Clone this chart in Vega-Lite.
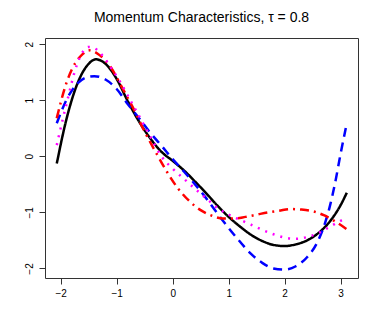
{
  "$schema": "https://vega.github.io/schema/vega-lite/v6.json",
  "width": 313,
  "height": 240,
  "autosize": {"type": "none"},
  "padding": {"left": 45, "top": 38, "right": 24, "bottom": 49},
  "background": "white",
  "title": {"text": "Momentum Characteristics, τ = 0.8", "font": "Liberation Sans", "fontSize": 14, "fontWeight": "normal", "color": "#000000", "anchor": "middle", "offset": 13},
  "config": {
    "view": {"stroke": "#333333", "strokeWidth": 1},
    "axis": {"domain": false, "grid": false, "tickColor": "#333333", "tickSize": 6, "labelFont": "Liberation Sans", "labelFontSize": 10, "labelColor": "#000000", "title": null}
  },
  "datasets": {
    "curves": [
      {"s": "a", "x": -2.07, "y": -0.13}, {"s": "a", "x": -1.9, "y": 0.65}, {"s": "a", "x": -1.7, "y": 1.3}, {"s": "a", "x": -1.5, "y": 1.65}, {"s": "a", "x": -1.37, "y": 1.73}, {"s": "a", "x": -1.2, "y": 1.65}, {"s": "a", "x": -1.0, "y": 1.38}, {"s": "a", "x": -0.8, "y": 0.98}, {"s": "a", "x": -0.6, "y": 0.62}, {"s": "a", "x": -0.4, "y": 0.32}, {"s": "a", "x": -0.2, "y": 0.08}, {"s": "a", "x": 0.0, "y": -0.08}, {"s": "a", "x": 0.2, "y": -0.25}, {"s": "a", "x": 0.4, "y": -0.45}, {"s": "a", "x": 0.6, "y": -0.66}, {"s": "a", "x": 0.8, "y": -0.88}, {"s": "a", "x": 1.0, "y": -1.08}, {"s": "a", "x": 1.2, "y": -1.25}, {"s": "a", "x": 1.4, "y": -1.4}, {"s": "a", "x": 1.6, "y": -1.51}, {"s": "a", "x": 1.8, "y": -1.58}, {"s": "a", "x": 2.0, "y": -1.6}, {"s": "a", "x": 2.2, "y": -1.57}, {"s": "a", "x": 2.4, "y": -1.5}, {"s": "a", "x": 2.6, "y": -1.37}, {"s": "a", "x": 2.8, "y": -1.17}, {"s": "a", "x": 3.0, "y": -0.87}, {"s": "a", "x": 3.11, "y": -0.65},
      {"s": "b", "x": -2.07, "y": 0.59}, {"s": "b", "x": -1.9, "y": 1.0}, {"s": "b", "x": -1.7, "y": 1.3}, {"s": "b", "x": -1.5, "y": 1.42}, {"s": "b", "x": -1.4, "y": 1.43}, {"s": "b", "x": -1.2, "y": 1.37}, {"s": "b", "x": -1.0, "y": 1.2}, {"s": "b", "x": -0.8, "y": 0.93}, {"s": "b", "x": -0.6, "y": 0.68}, {"s": "b", "x": -0.4, "y": 0.42}, {"s": "b", "x": -0.2, "y": 0.19}, {"s": "b", "x": 0.0, "y": -0.05}, {"s": "b", "x": 0.2, "y": -0.27}, {"s": "b", "x": 0.4, "y": -0.5}, {"s": "b", "x": 0.6, "y": -0.75}, {"s": "b", "x": 0.8, "y": -1.02}, {"s": "b", "x": 1.0, "y": -1.28}, {"s": "b", "x": 1.2, "y": -1.52}, {"s": "b", "x": 1.4, "y": -1.74}, {"s": "b", "x": 1.6, "y": -1.9}, {"s": "b", "x": 1.8, "y": -2.0}, {"s": "b", "x": 2.0, "y": -2.02}, {"s": "b", "x": 2.2, "y": -1.96}, {"s": "b", "x": 2.4, "y": -1.8}, {"s": "b", "x": 2.6, "y": -1.5}, {"s": "b", "x": 2.8, "y": -0.92}, {"s": "b", "x": 2.9, "y": -0.48}, {"s": "b", "x": 3.0, "y": 0.05}, {"s": "b", "x": 3.11, "y": 0.59},
      {"s": "c", "x": -2.07, "y": 0.68}, {"s": "c", "x": -1.9, "y": 1.3}, {"s": "c", "x": -1.8, "y": 1.55}, {"s": "c", "x": -1.65, "y": 1.78}, {"s": "c", "x": -1.48, "y": 1.89}, {"s": "c", "x": -1.3, "y": 1.8}, {"s": "c", "x": -1.1, "y": 1.58}, {"s": "c", "x": -0.9, "y": 1.22}, {"s": "c", "x": -0.7, "y": 0.85}, {"s": "c", "x": -0.5, "y": 0.44}, {"s": "c", "x": -0.3, "y": 0.07}, {"s": "c", "x": -0.1, "y": -0.28}, {"s": "c", "x": 0.1, "y": -0.58}, {"s": "c", "x": 0.3, "y": -0.8}, {"s": "c", "x": 0.5, "y": -0.96}, {"s": "c", "x": 0.7, "y": -1.06}, {"s": "c", "x": 0.9, "y": -1.11}, {"s": "c", "x": 1.1, "y": -1.11}, {"s": "c", "x": 1.3, "y": -1.08}, {"s": "c", "x": 1.5, "y": -1.04}, {"s": "c", "x": 1.7, "y": -1.0}, {"s": "c", "x": 1.9, "y": -0.97}, {"s": "c", "x": 2.1, "y": -0.94}, {"s": "c", "x": 2.3, "y": -0.95}, {"s": "c", "x": 2.5, "y": -0.98}, {"s": "c", "x": 2.7, "y": -1.05}, {"s": "c", "x": 2.9, "y": -1.16}, {"s": "c", "x": 3.11, "y": -1.3},
      {"s": "d", "x": -2.07, "y": 0.2}, {"s": "d", "x": -1.9, "y": 0.92}, {"s": "d", "x": -1.7, "y": 1.66}, {"s": "d", "x": -1.5, "y": 1.95}, {"s": "d", "x": -1.4, "y": 1.93}, {"s": "d", "x": -1.24, "y": 1.78}, {"s": "d", "x": -1.1, "y": 1.58}, {"s": "d", "x": -0.94, "y": 1.33}, {"s": "d", "x": -0.8, "y": 1.08}, {"s": "d", "x": -0.6, "y": 0.72}, {"s": "d", "x": -0.4, "y": 0.35}, {"s": "d", "x": -0.2, "y": 0.0}, {"s": "d", "x": 0.0, "y": -0.22}, {"s": "d", "x": 0.2, "y": -0.4}, {"s": "d", "x": 0.4, "y": -0.58}, {"s": "d", "x": 0.6, "y": -0.75}, {"s": "d", "x": 0.8, "y": -0.92}, {"s": "d", "x": 1.0, "y": -1.04}, {"s": "d", "x": 1.2, "y": -1.13}, {"s": "d", "x": 1.4, "y": -1.22}, {"s": "d", "x": 1.6, "y": -1.31}, {"s": "d", "x": 1.8, "y": -1.39}, {"s": "d", "x": 2.0, "y": -1.45}, {"s": "d", "x": 2.2, "y": -1.47}, {"s": "d", "x": 2.4, "y": -1.44}, {"s": "d", "x": 2.6, "y": -1.37}, {"s": "d", "x": 2.8, "y": -1.26}, {"s": "d", "x": 3.0, "y": -1.15}, {"s": "d", "x": 3.11, "y": -1.1}
    ]
  },
  "data": {"name": "curves"},
  "mark": {"type": "line", "strokeWidth": 2.5, "interpolate": "monotone", "clip": true},
  "encoding": {
    "x": {"field": "x", "type": "quantitative", "scale": {"domain": [-2.28, 3.31], "nice": false, "zero": false}, "axis": {"values": [-2, -1, 0, 1, 2, 3], "labelPadding": 4}},
    "y": {"field": "y", "type": "quantitative", "scale": {"domain": [-2.17, 2.11], "nice": false, "zero": false}, "axis": {"values": [-2, -1, 0, 1, 2], "labelAngle": -90, "labelAlign": "center", "labelBaseline": "bottom", "labelPadding": 5}},
    "color": {"field": "s", "type": "nominal", "scale": {"domain": ["a", "b", "c", "d"], "range": ["#000000", "#0000FF", "#FF0000", "#FF00FF"]}, "legend": null},
    "strokeDash": {"field": "s", "type": "nominal", "scale": {"domain": ["a", "b", "c", "d"], "range": [[1, 0], [9, 6], [9, 5, 2, 5], [2, 6]]}, "legend": null},
    "order": {"field": "x", "type": "quantitative"}
  }
}
